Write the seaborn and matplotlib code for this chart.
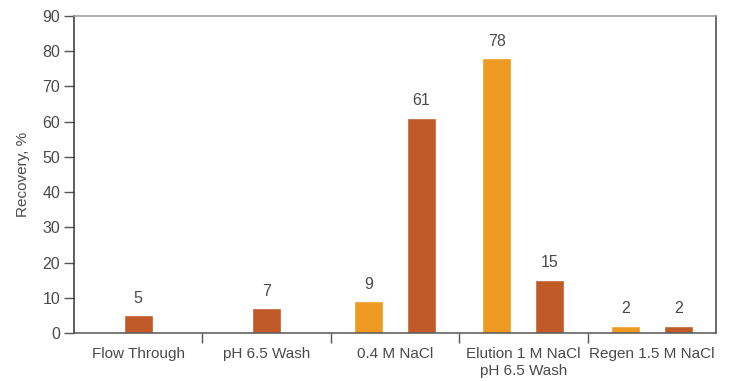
import numpy as np
import pandas as pd
import matplotlib
matplotlib.use("Agg")
import matplotlib.pyplot as plt
from matplotlib.ticker import FixedLocator
import seaborn as sns

# Fraction recoveries per chromatography step
categories = ["Flow Through", "pH 6.5 Wash", "0.4 M NaCl",
              "Elution 1 M NaCl\npH 6.5 Wash", "Regen 1.5 M NaCl"]
series_names = ["Series 1", "Series 2"]
series_1 = [np.nan, np.nan, 9, 78, 2]
series_2 = [5, 7, 61, 15, 2]
y_ticks = [0, 10, 20, 30, 40, 50, 60, 70, 80, 90]

palette = {"Series 1": "#EE9A22", "Series 2": "#C05A27"}
text_color = "#4a4a4a"

rows = []
for cat, a, b in zip(categories, series_1, series_2):
    rows.append({"category": cat, "series": series_names[0], "value": a})
    rows.append({"category": cat, "series": series_names[1], "value": b})
df = pd.DataFrame(rows)
df_valid = df.dropna().copy()
df_valid["n"] = df_valid.groupby("category")["value"].transform("size")
paired = df_valid[df_valid["n"] == 2]
single = df_valid[df_valid["n"] == 1]

sns.set_theme(style="white")
plt.rcParams["font.family"] = ["Liberation Sans", "DejaVu Sans"]

fig = plt.figure(figsize=(7.29, 3.81), dpi=100)
ax = fig.add_axes([0.1015, 0.126, 0.8805, 0.832])

sns.barplot(data=paired, x="category", y="value", hue="series",
            order=categories, hue_order=series_names, palette=palette,
            width=0.826, gap=0.45, dodge=True, legend=False,
            errorbar=None, saturation=1, ax=ax)
sns.barplot(data=single, x="category", y="value", hue="series",
            order=categories, hue_order=series_names, palette=palette,
            width=0.226, dodge=False, legend=False,
            errorbar=None, saturation=1, ax=ax)

for cont in ax.containers:
    ax.bar_label(cont, fmt="%g", padding=7, fontsize=11.5, color=text_color)

ax.set_xlim(-0.5, len(categories) - 0.5)
ax.set_ylim(0, 90)
ax.set_yticks(y_ticks)
ax.set_xticks(range(len(categories)))
ax.set_xticklabels(categories, fontsize=11, color=text_color,
                   linespacing=1.3)
ax.xaxis.set_minor_locator(FixedLocator(np.arange(0.5, len(categories) - 1, 1)))
ax.tick_params(axis="x", which="major", length=0, pad=10)
ax.tick_params(axis="x", which="minor", bottom=True, length=7,
               width=1, color="#555555", direction="out")
ax.tick_params(axis="y", left=True, length=7, width=1, color="#555555",
               direction="out", pad=3, labelsize=11.5, labelcolor=text_color)
ax.set_xlabel("")
ax.set_ylabel("Recovery, %", fontsize=11, color=text_color, labelpad=9)

for side, col in {"left": "#333333", "bottom": "#555555",
                  "top": "#999999", "right": "#444444"}.items():
    ax.spines[side].set_visible(True)
    ax.spines[side].set_color(col)
    ax.spines[side].set_linewidth(1.1)

fig.savefig("out.png", dpi=100)
